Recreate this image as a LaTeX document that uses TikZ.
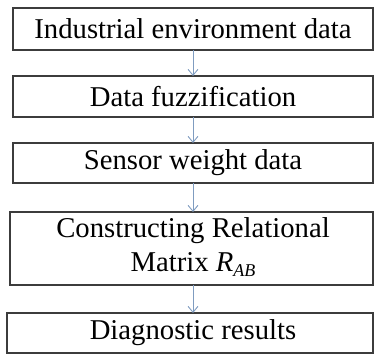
\documentclass[tikz,border=0pt]{standalone}
\usepackage{fontspec}
\setmainfont{Liberation Serif}
\usetikzlibrary{arrows.meta}
\definecolor{boxline}{HTML}{3C3C3C}
\definecolor{arrowc}{HTML}{7F9CC0}
\newcommand{\subAB}{\raisebox{-0.35ex}{\fontsize{18}{20}\selectfont\textit{AB}}}
\begin{document}
\begin{tikzpicture}[x=1pt,y=-1pt,
  boxst/.style={draw=boxline,line width=1.4pt,fill=white},
  lbl/.style={font=\fontsize{28.7}{34}\selectfont,align=center,inner sep=0pt},
  arr/.style={draw=arrowc,line width=0.9pt,-{Straight Barb[length=6pt,width=10pt]}}]
\useasboundingbox (0,0) rectangle (375,355);
\draw[boxst] (13,8) rectangle (373,50);
\draw[boxst] (13,76) rectangle (373,117);
\draw[boxst] (13,143) rectangle (373,183);
\draw[boxst] (10,212) rectangle (373,285);
\draw[boxst] (7,313) rectangle (373,353);
\node[lbl] (b1) at (193,29) {Industrial environment data};
\node[lbl] (b2) at (193,96.5) {Data fuzzification};
\node[lbl] (b3) at (193,163) {Sensor weight data};
\node[lbl] (b4) at (193,247) {Constructing Relational\\Matrix \textit{R}\subAB};
\node[lbl] (b5) at (193,333) {Diagnostic results};
\coordinate (a1s) at (193,50); \coordinate (a1e) at (193,76);
\coordinate (a2s) at (193,117); \coordinate (a2e) at (193,143);
\coordinate (a3s) at (193,183); \coordinate (a3e) at (193,212);
\coordinate (a4s) at (193,285); \coordinate (a4e) at (193,313);
\draw[arr] (a1s) -- (a1e);
\draw[arr] (a2s) -- (a2e);
\draw[arr] (a3s) -- (a3e);
\draw[arr] (a4s) -- (a4e);
\end{tikzpicture}
\end{document}
